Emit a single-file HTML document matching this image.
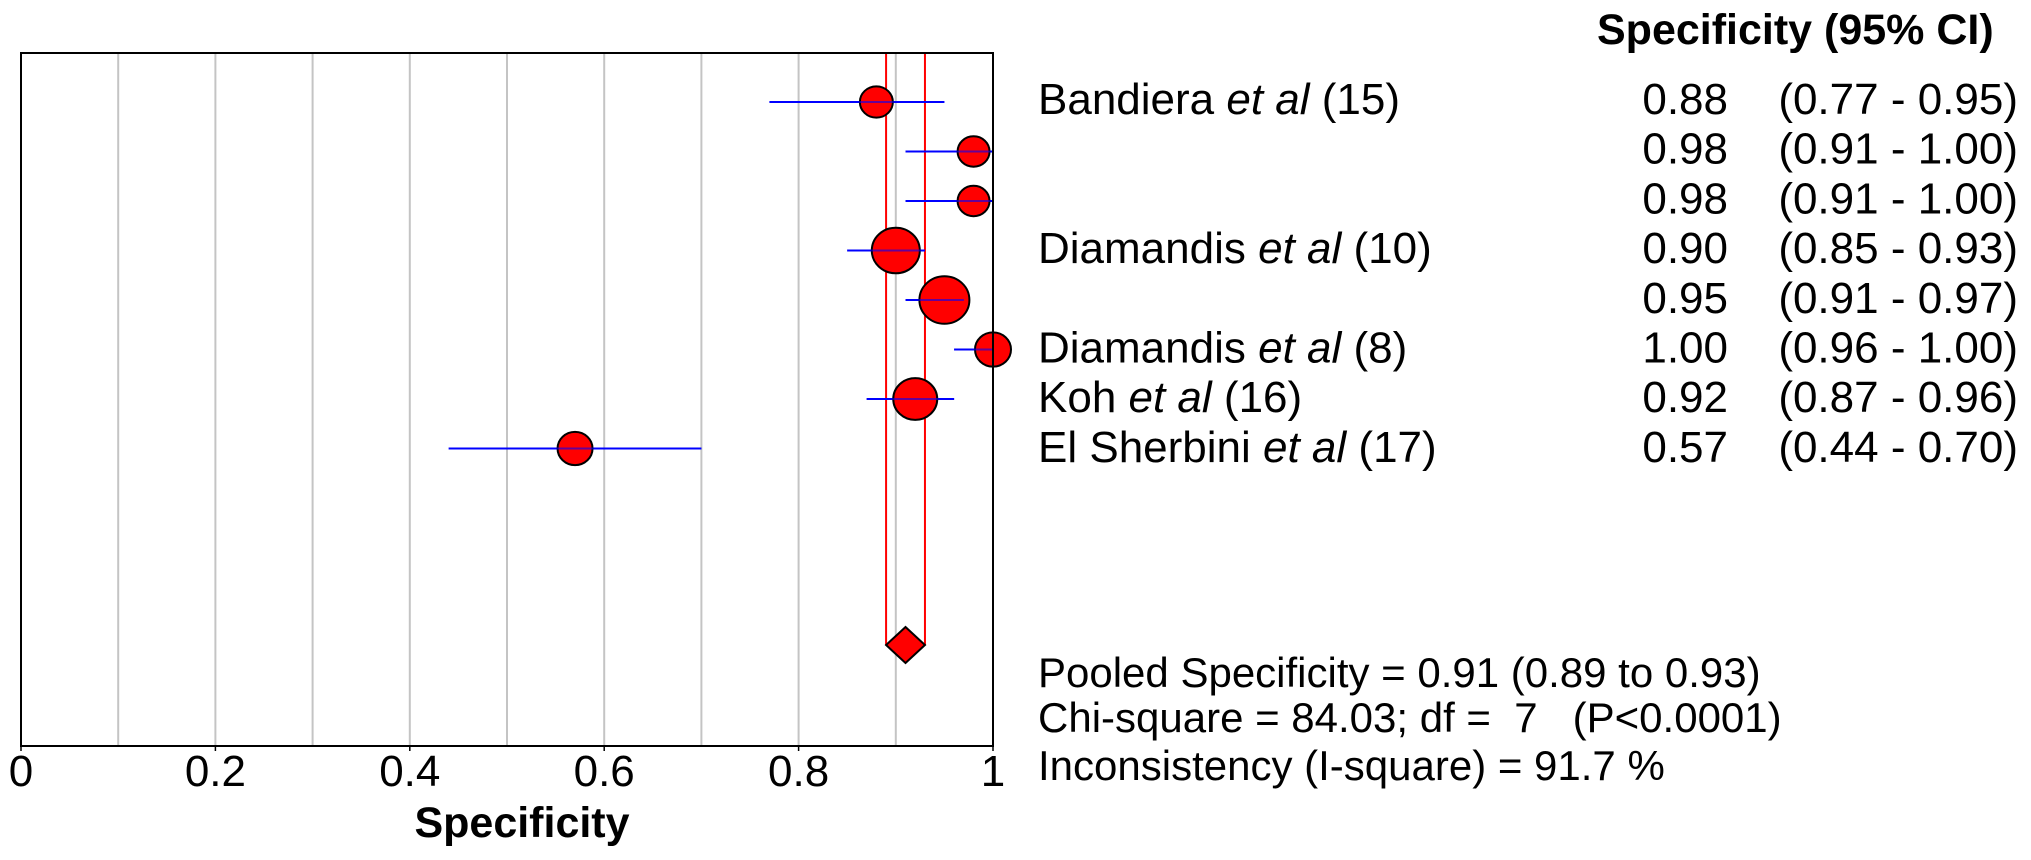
<!DOCTYPE html>
<html><head><meta charset="utf-8"><style>
html,body{margin:0;padding:0;background:#fff;}
svg{display:block;font-family:"Liberation Sans",Arial,sans-serif;}
text{white-space:pre;}
</style></head><body>
<svg id="chart" width="2031" height="860" viewBox="0 0 2031 860" xmlns="http://www.w3.org/2000/svg">
<g id="grid"></g>
<g id="pooled"></g>
<g id="marks"></g>
<rect x="21" y="53" width="972" height="693" fill="none" stroke="#000" stroke-width="2"/>
<g id="ticks" font-size="44" text-anchor="middle"></g>
<text x="522" y="837" font-size="43" font-weight="bold" text-anchor="middle">Specificity</text>
<text x="1597" y="44" font-size="43" font-weight="bold">Specificity (95% CI)</text>
<g id="table" font-size="44"></g>
<g font-size="42">
<text x="1038" y="687">Pooled Specificity = 0.91 (0.89 to 0.93)</text>
<text x="1038" y="732">Chi-square = 84.03; df =  7   (P&lt;0.0001)</text>
<text x="1038" y="780">Inconsistency (I-square) = 91.7 %</text>
</g>
</svg>
<script>
const studyLabels = ["Bandiera|(15)", "", "", "Diamandis|(10)", "", "Diamandis|(8)", "Koh|(16)", "El Sherbini|(17)"];
const estimates = [0.88, 0.98, 0.98, 0.90, 0.95, 1.00, 0.92, 0.57];
const lowerCI = [0.77, 0.91, 0.91, 0.85, 0.91, 0.96, 0.87, 0.44];
const upperCI = [0.95, 1.00, 1.00, 0.93, 0.97, 1.00, 0.96, 0.70];
const weights = [16.5, 16, 16, 24, 25, 18, 22, 17.5];
const pooled = [0.91, 0.89, 0.93];
const tickValues = [0, 0.2, 0.4, 0.6, 0.8, 1];
const tickLabels = ["0", "0.2", "0.4", "0.6", "0.8", "1"];

const NS = "http://www.w3.org/2000/svg";
const X0 = 21, X1 = 993, TOP = 53, BOT = 746;
const xs = v => X0 + v * (X1 - X0);
const rowY = i => 102 + i * 49.5;
const textY = i => 114 + i * 49.7;
function mk(tag, attrs, parent) {
  const e = document.createElementNS(NS, tag);
  for (const k in attrs) e.setAttribute(k, attrs[k]);
  parent.appendChild(e);
  return e;
}
const grid = document.getElementById('grid');
for (let k = 1; k < 10; k++) {
  const l = mk('line', {x1: xs(k / 10), x2: xs(k / 10), y1: TOP, y2: BOT, stroke: '#c4c4c4', 'stroke-width': 2}, grid);
  
  
}
const ticks = document.getElementById('ticks');
tickValues.forEach((v, i) => {
  const tk = mk('line', {x1: xs(v), x2: xs(v), y1: BOT, y2: BOT + 5, stroke: '#000', 'stroke-width': 1.5}, ticks);
  
  
  const t = mk('text', {x: xs(v), y: 786}, ticks);
  t.textContent = tickLabels[i];
  
  
});
const pg = document.getElementById('pooled');
const DY = 645;
[pooled[1], pooled[2]].forEach(v => {
  const l = mk('line', {x1: xs(v), x2: xs(v), y1: TOP, y2: DY, stroke: '#ff0000', 'stroke-width': 2}, pg);
  
  
});
const marks = document.getElementById('marks');
estimates.forEach((v, i) => {
  const y = rowY(i);
  const c = mk('line', {x1: xs(lowerCI[i]), x2: xs(upperCI[i]), y1: y, y2: y, stroke: '#0000ff', 'stroke-width': 2}, marks);
  
  
});
estimates.forEach((v, i) => {
  const y = rowY(i);
  const e = mk('ellipse', {cx: xs(v), cy: y, rx: weights[i], ry: weights[i] * 0.95, fill: '#ff0000', stroke: '#000', 'stroke-width': 2}, marks);
  
  
});
estimates.forEach((v, i) => {
  const y = rowY(i);
  const c = mk('line', {x1: xs(lowerCI[i]), x2: xs(upperCI[i]), y1: y, y2: y, stroke: '#0000ff', 'stroke-width': 2, 'stroke-opacity': 0.6}, marks);
  
  
});
const d = mk('polygon', {points: `${xs(pooled[1])},${DY} ${xs(pooled[0])},${DY - 18} ${xs(pooled[2])},${DY} ${xs(pooled[0])},${DY + 18}`, fill: '#ff0000', stroke: '#000', 'stroke-width': 2}, pg);



const table = document.getElementById('table');
estimates.forEach((v, i) => {
  const y = textY(i);
  if (studyLabels[i]) {
    const parts = studyLabels[i].split('|');
    const t = mk('text', {x: 1038, y: y}, table);
    
    
    const a = mk('tspan', {}, t); a.textContent = parts[0] + ' ';
    const b = mk('tspan', {'font-style': 'italic'}, t); b.textContent = 'et al';
    const c = mk('tspan', {}, t); c.textContent = ' ' + parts[1];
  }
  const vt = mk('text', {x: 1728, y: y, 'text-anchor': 'end'}, table);
  vt.textContent = v.toFixed(2);
  
  
  const ct = mk('text', {x: 2018, y: y, 'text-anchor': 'end'}, table);
  ct.textContent = '(' + lowerCI[i].toFixed(2) + ' - ' + upperCI[i].toFixed(2) + ')';
  
  
});
</script>
</body></html>
